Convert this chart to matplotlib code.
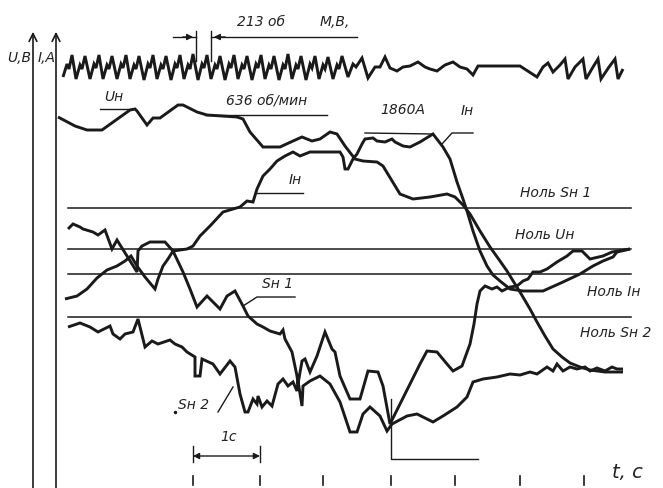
import matplotlib
matplotlib.use("Agg")
import matplotlib.pyplot as plt

# all values, in picture units (x to the right, y downward)
osc_x = [63, 67, 69, 72, 76, 80, 82, 85, 90, 94, 96, 99, 103, 107, 109, 112,
         117, 121, 123, 126, 130, 134, 136, 139, 144, 148, 150, 153, 157, 161, 163, 166,
         171, 175, 177, 180, 184, 188, 190, 193, 198, 202, 204, 207, 211, 215, 217, 220,
         225, 229, 231, 234, 238, 242, 244, 247, 252, 256, 258, 261, 265, 269, 271, 274,
         279, 283, 285, 288, 292, 296, 298, 301, 306, 310, 312, 315, 319, 323, 325, 328,
         333, 337, 339, 342, 348, 353, 356, 362, 368, 375, 380, 385, 390, 397, 403, 410,
         418, 425, 430, 437, 445, 453, 460, 467, 473, 478, 520, 537, 543, 548, 553, 560,
         565, 568, 575, 583, 586, 593, 598, 601, 609, 615, 618, 623]
osc_y = [78, 65, 70, 56, 80, 66, 70, 57, 80, 65, 69, 56, 80, 66, 70, 57,
         80, 65, 69, 56, 80, 66, 70, 57, 81, 65, 69, 56, 80, 66, 70, 57,
         81, 65, 69, 56, 80, 66, 70, 55, 81, 65, 69, 56, 80, 66, 70, 57,
         81, 65, 69, 56, 80, 66, 70, 57, 81, 65, 69, 56, 80, 66, 70, 57,
         81, 66, 70, 55, 80, 66, 70, 57, 81, 65, 69, 57, 80, 66, 70, 58,
         80, 66, 70, 57, 78, 65, 68, 59, 79, 68, 68, 58, 69, 72, 68, 67,
         63, 68, 70, 72, 66, 63, 68, 70, 76, 67, 67, 78, 68, 64, 73, 66,
         60, 80, 68, 60, 80, 68, 60, 80, 68, 60, 80, 70]

uh_x = [58, 75, 87, 102, 130, 135, 137, 147, 153, 160, 178, 183, 197, 207, 237, 243,
        250, 263, 280, 293, 302, 312, 320, 330, 337, 345, 355, 363, 377, 383, 400, 413,
        430, 447, 455, 463, 470, 480, 490, 500, 507, 515, 520, 530, 537, 545, 553, 562,
        570, 580, 590, 605, 623]
uh_y = [118, 127, 131, 131, 111, 110, 112, 126, 119, 119, 106, 106, 113, 116, 118, 120,
        133, 148, 148, 142, 138, 142, 140, 133, 135, 147, 160, 162, 163, 167, 195, 200,
        198, 195, 198, 206, 215, 232, 248, 262, 272, 285, 293, 310, 323, 337, 350, 358,
        364, 368, 371, 373, 373]

ih_x = [65, 77, 87, 97, 107, 117, 125, 131, 137, 145, 150, 155, 158, 163, 168, 173,
        187, 193, 200, 210, 223, 233, 240, 247, 253, 257, 263, 270, 277, 285, 293, 300,
        305, 310, 340, 343, 345, 348, 353, 357, 362, 365, 373, 377, 385, 392, 395, 403,
        410, 420, 433, 443, 450, 457, 463, 467, 473, 480, 487, 493, 500, 510, 523, 543,
        563, 580, 593, 603, 613, 617, 630]
ih_y = [300, 297, 290, 279, 271, 267, 262, 257, 267, 278, 284, 290, 280, 267, 260, 252,
        250, 247, 237, 227, 213, 210, 208, 202, 203, 190, 177, 170, 162, 157, 153, 157,
        155, 153, 153, 158, 170, 170, 160, 155, 145, 140, 139, 142, 143, 140, 143, 147,
        148, 143, 135, 148, 160, 183, 200, 212, 232, 252, 267, 276, 282, 290, 292, 292,
        283, 275, 267, 262, 258, 253, 250]

sh1_x = [68, 73, 80, 83, 93, 98, 105, 112, 117, 127, 137, 138, 142, 150, 165, 173,
         183, 190, 197, 207, 220, 227, 235, 243, 248, 257, 263, 270, 280, 283, 285, 292,
         297, 298, 302, 305, 310, 317, 325, 332, 335, 340, 350, 360, 368, 378, 383, 390,
         400, 410, 420, 427, 437, 447, 453, 462, 470, 474, 477, 480, 485, 492, 497, 502,
         510, 517, 523, 528, 533, 540, 547, 557, 567, 573, 582, 590, 603, 612, 630]
sh1_y = [230, 225, 228, 230, 233, 236, 231, 250, 241, 257, 273, 252, 247, 243, 243, 252,
         273, 290, 308, 297, 310, 297, 292, 307, 317, 325, 328, 332, 335, 331, 340, 353,
         377, 385, 362, 360, 373, 357, 333, 350, 353, 377, 400, 400, 372, 373, 387, 425,
         405, 385, 365, 352, 353, 365, 372, 367, 345, 325, 305, 292, 287, 290, 288, 292,
         288, 287, 282, 280, 273, 273, 270, 263, 257, 252, 252, 260, 257, 253, 250]

sh2_x = [68, 80, 90, 98, 110, 113, 120, 125, 133, 138, 145, 152, 158, 170, 175, 182,
         187, 195, 195, 200, 202, 213, 220, 230, 235, 240, 245, 248, 253, 257, 258, 262,
         267, 272, 278, 283, 288, 293, 297, 298, 302, 303, 310, 320, 330, 340, 350, 357,
         363, 370, 380, 387, 392, 407, 417, 427, 433, 443, 457, 467, 473, 483, 497, 510,
         520, 530, 537, 547, 553, 557, 563, 570, 577, 585, 590, 597, 605, 612, 617, 623]
sh2_y = [328, 324, 328, 333, 327, 335, 340, 335, 333, 320, 348, 342, 345, 341, 345, 348,
         353, 358, 377, 377, 360, 365, 375, 362, 368, 395, 413, 413, 400, 405, 397, 408,
         402, 407, 385, 380, 387, 383, 392, 382, 407, 387, 382, 377, 385, 403, 433, 433,
         415, 408, 417, 432, 425, 417, 415, 420, 423, 417, 408, 398, 383, 380, 378, 375,
         376, 373, 375, 368, 372, 365, 372, 368, 370, 368, 372, 369, 372, 368, 370, 370]

zero_levels = [209, 250, 275, 318]
zero_labels = ["Ноль Sн 1", "Ноль Uн", "Ноль Iн", "Ноль Sн 2"]
zero_label_x = [520, 515, 587, 580]
zero_label_y = [193, 235, 292, 333]
time_ticks = [193, 260, 323, 391, 455, 520, 584]

W, H = 663, 489
fig = plt.figure(figsize=(W / 100, H / 100), dpi=100)
ax = fig.add_axes([0, 0, 1, 1])
ax.set_xlim(0, W)
ax.set_ylim(H, 0)
ax.axis("off")

fam = ["Liberation Sans Narrow", "DejaVu Sans"]
txt = dict(family=fam, style="italic", color="#222222", fontsize=10)
ink = "#1a1a1a"
lw_curve = 2.1
lw_thin = 1.0

# axes arrows
for xa in (33, 56):
    ax.annotate("", xy=(xa, 30), xytext=(xa, H + 5),
                arrowprops=dict(arrowstyle="->", color=ink, lw=1.2,
                                mutation_scale=14))
ax.text(7, 58, "U,B", ha="left", va="center", **txt)
ax.text(38, 58, "I,A", ha="left", va="center", **txt)

# zero lines
for lvl, lab, lx, ly in zip(zero_levels, zero_labels, zero_label_x, zero_label_y):
    ax.plot([68, 631], [lvl, lvl], color=ink, lw=1.1)
    ax.text(lx, ly, lab, ha="left", va="center", **txt)

# curves
for xs, ys in ((osc_x, osc_y), (uh_x, uh_y), (ih_x, ih_y),
               (sh1_x, sh1_y), (sh2_x, sh2_y)):
    ax.plot(xs, ys, color=ink, lw=lw_curve, solid_joinstyle="miter",
            solid_capstyle="butt")

# revolution marks above the oscillation
ax.plot([196, 196], [32, 62], color=ink, lw=lw_thin)
ax.plot([211, 211], [32, 62], color=ink, lw=lw_thin)
ax.plot([173, 196], [38, 38], color=ink, lw=lw_thin)
ax.annotate("", xy=(196, 38), xytext=(180, 38),
            arrowprops=dict(arrowstyle="-|>", color=ink, lw=lw_thin, mutation_scale=9))
ax.plot([211, 357], [38, 38], color=ink, lw=lw_thin)
ax.annotate("", xy=(211, 38), xytext=(228, 38),
            arrowprops=dict(arrowstyle="-|>", color=ink, lw=lw_thin, mutation_scale=9))
ax.text(237, 22, "213 об", ha="left", va="center", **txt)
ax.text(320, 22, "М,В,", ha="left", va="center", **txt)

# labels with leaders
ax.plot([100, 135], [110, 110], color=ink, lw=lw_thin)
ax.text(104, 97, "Uн", ha="left", va="center", **txt)
ax.plot([205, 327], [116, 116], color=ink, lw=lw_thin)
ax.text(226, 101, "636 об/мин", ha="left", va="center", **txt)
ax.plot([365, 433], [134, 135], color=ink, lw=lw_thin)
ax.text(380, 110, "1860A", ha="left", va="center", **txt)
ax.plot([442, 452, 473], [145, 134, 134], color=ink, lw=lw_thin)
ax.text(461, 111, "Iн", ha="left", va="center", **txt)
ax.plot([257, 303], [194, 194], color=ink, lw=lw_thin)
ax.text(289, 180, "Iн", ha="left", va="center", **txt)
ax.plot([243, 257, 295], [307, 298, 298], color=ink, lw=lw_thin)
ax.text(262, 284, "Sн 1", ha="left", va="center", **txt)
ax.plot([218, 233], [413, 388], color=ink, lw=lw_thin)
ax.plot([175], [413], marker="o", ms=1.5, color=ink)
ax.text(178, 405, "Sн 2", ha="left", va="center", **txt)

# switching moment marker
ax.plot([391, 391, 478], [400, 460, 460], color=ink, lw=lw_thin)

# one-second dimension
ax.plot([193, 193], [447, 463], color=ink, lw=lw_thin)
ax.plot([260, 260], [447, 463], color=ink, lw=lw_thin)
ax.annotate("", xy=(193, 457), xytext=(260, 457),
            arrowprops=dict(arrowstyle="<|-|>", color=ink, lw=lw_thin, mutation_scale=9,
                            shrinkA=0, shrinkB=0))
ax.text(220, 437, "1с", ha="left", va="center", **txt)

# time ticks
for tx in time_ticks:
    ax.plot([tx, tx], [477, 486], color=ink, lw=1.2)
ax.text(612, 473, "t, с", ha="left", va="center", family=fam, style="italic",
        color="#222222", fontsize=14)

fig.savefig("out.png", dpi=100)
